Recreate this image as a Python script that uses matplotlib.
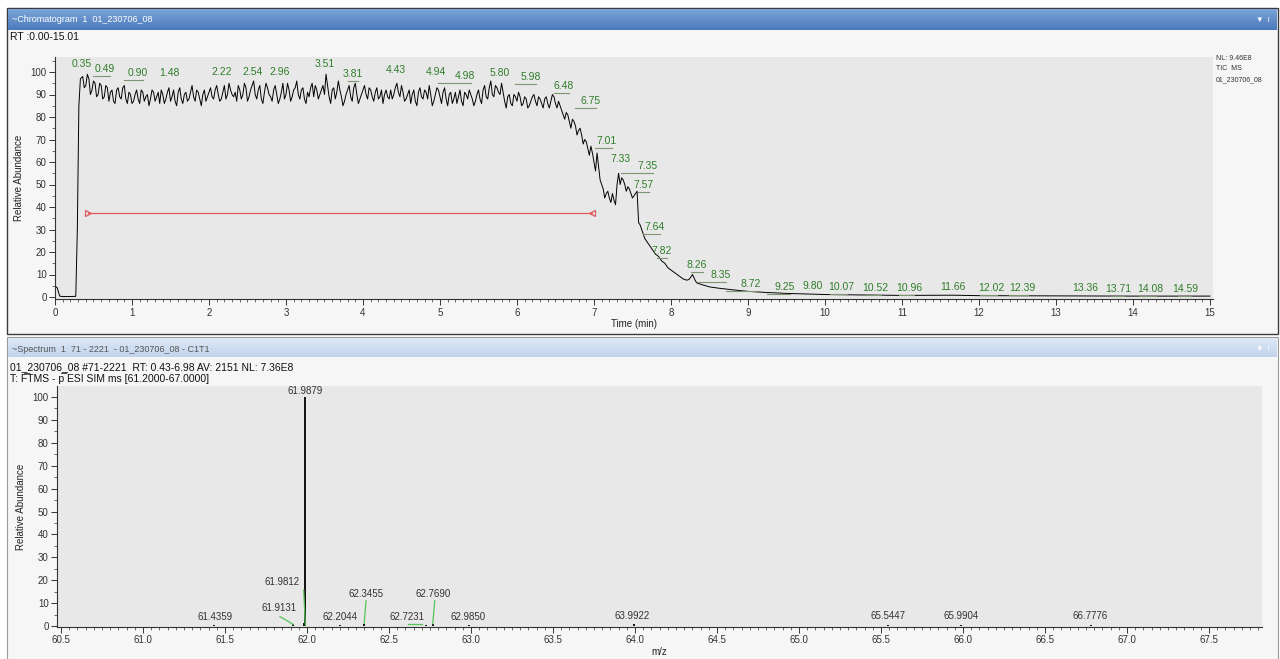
import numpy as np
import matplotlib
matplotlib.use("Agg")
import matplotlib.pyplot as plt
from matplotlib.patches import Rectangle
from matplotlib.colors import LinearSegmentedColormap
from matplotlib.ticker import MultipleLocator, FormatStrFormatter

plt.rcParams['font.family'] = ['Liberation Sans', 'DejaVu Sans']

# ---- chromatogram (TIC), relative abundance vs time (min)
head_t = [0.00, 0.03, 0.06, 0.10, 0.20, 0.27, 0.29, 0.31, 0.33]
head_i = [5.0, 4.0, 0.4, 0.2, 0.2, 0.3, 30, 85, 97]

# read every 0.04 min from 0.36 to 8.32 ...
dense_start = 0.36
dense_step = 0.04
dense_i = [
    98, 94, 97, 92, 95, 90, 94, 89, 93, 91, 87, 92, 89, 93, 88, 91, 86, 90, 88, 92, 87, 90, 88, 91, 89,
    86, 90, 88, 93, 89, 87, 91, 88, 90, 87, 91, 89, 92, 88, 90, 87, 91, 89, 92, 90, 88, 94, 90, 92, 89,
    87, 92, 90, 93, 89, 94, 90, 92, 88, 91, 93, 89, 92, 90, 88, 95, 90, 92, 89, 93, 90, 92, 88, 91, 93,
    89, 92, 90, 94, 99, 89, 92, 88, 96, 89, 87, 92, 89, 93, 90, 88, 92, 90, 93, 89, 91, 88, 92, 90, 89,
    92, 90, 95, 89, 91, 88, 92, 90, 87, 91, 89, 92, 88, 90, 87, 93, 89, 91, 88, 90, 86, 91, 89, 87, 91,
    88, 90, 85, 90, 88, 92, 89, 93, 90, 94, 91, 95, 87, 89, 86, 90, 87, 89, 86, 88, 85, 89, 87, 89, 86,
    88, 86, 87, 89, 84, 85, 81, 82, 78, 79, 76, 74, 72, 70, 66, 67, 60, 64, 52, 48, 46, 44, 46, 41, 55,
    53, 50, 49, 46, 45, 47, 32, 28, 25, 23, 21, 19, 18, 16, 15, 13, 12, 11, 10, 9, 8, 7.5, 8, 10, 7,
]
# ... and the readings in between (0.38 to 8.34)
mid_i = [
    93, 99, 90, 96, 89, 95, 88, 94, 87, 92, 86, 93, 88, 94, 86, 90, 87, 92, 86, 91, 89, 85, 92, 87, 91,
    92, 86, 91, 87, 92, 85, 93, 86, 91, 88, 94, 87, 91, 85, 92, 89, 93, 88, 94, 87, 91, 88, 95, 90, 91,
    94, 88, 95, 87, 92, 96, 88, 94, 86, 95, 90, 87, 94, 86, 91, 88, 95, 87, 92, 96, 88, 93, 86, 89, 95,
    94, 88, 92, 90, 94, 86, 93, 91, 92, 85, 90, 94, 87, 95, 86, 90, 94, 88, 92, 87, 93, 89, 86, 92, 88,
    88, 93, 91, 94, 87, 90, 86, 92, 85, 93, 88, 91, 94, 85, 90, 92, 86, 93, 85, 91, 88, 86, 92, 85, 90,
    92, 88, 87, 92, 86, 94, 88, 96, 89, 93, 90, 91, 84, 90, 85, 89, 91, 85, 89, 84, 87, 90, 85, 88, 84,
    89, 84, 90, 86, 87, 83, 79, 81, 75, 78, 72, 75, 68, 69, 63, 64, 56, 58, 50, 44, 47, 42, 43, 50, 50,
    52, 47, 48, 44, 46, 33, 30, 26, 24, 22, 20, 18.5, 17, 15.5, 14, 12.5, 11.5, 10.5, 9.5, 8.5, 7.8, 7.6, 9, 8.5, 6.2,
]
tail_t = [8.40, 8.50, 8.60, 8.80, 9.00, 9.25, 9.50, 9.80, 10.00, 10.50, 11.00, 11.66, 12.00, 13.00, 14.00, 15.00]
tail_i = [5.5, 4.5, 4.0, 3.2, 2.5, 2.0, 1.6, 1.3, 1.1, 0.9, 0.7, 0.8, 0.6, 0.5, 0.4, 0.4]

body_t, body_i = [], []
for k, (a, b) in enumerate(zip(dense_i, mid_i)):
    t = dense_start + k * dense_step
    body_t += [round(t, 2), round(t + dense_step / 2, 2)]
    body_i += [a, b]
chrom_t = head_t + body_t + tail_t
chrom_i = head_i + body_i + tail_i

# labelled peaks and where the labels sit
peak_rt = [0.35, 0.49, 0.90, 1.48, 2.22, 2.54, 2.96, 3.51, 3.81, 4.43, 4.94, 4.98, 5.80, 5.98,
           6.48, 6.75, 7.01, 7.33, 7.35, 7.57, 7.64, 7.82, 8.26, 8.35, 8.72, 9.25, 9.80, 10.07,
           10.52, 10.96, 11.66, 12.02, 12.39, 13.36, 13.71, 14.08, 14.59]
label_x = [0.35, 0.64, 1.07, 1.48, 2.17, 2.56, 2.92, 3.51, 3.87, 4.43, 4.95, 5.33, 5.78, 6.18,
           6.61, 6.96, 7.17, 7.34, 7.70, 7.64, 7.79, 7.88, 8.34, 8.65, 9.04, 9.48, 9.84, 10.21,
           10.66, 11.09, 11.66, 12.16, 12.57, 13.38, 13.81, 14.23, 14.68]
label_y = [103.6, 101.3, 99.6, 99.6, 100, 100, 100, 103.6, 99.1, 100.9, 100, 98.2, 99.6, 97.8,
           93.8, 87.1, 69.3, 61.3, 58.2, 49.8, 31.1, 20.4, 14.2, 9.8, 5.8, 4.4, 4.9, 4.4,
           4.0, 4.0, 4.4, 4.0, 4.0, 4.0, 3.6, 3.6, 3.6]

avg_range = [0.43, 6.98]
avg_level = 37.3

# ---- spectrum
spec_mz = [61.4359, 61.9131, 61.9812, 61.9879, 62.2044, 62.3455, 62.7231, 62.7690,
           62.9850, 63.9922, 65.5447, 65.9904, 66.7776]
spec_int = [0.6, 0.8, 1.5, 100, 0.5, 0.8, 0.6, 0.8, 0.5, 0.7, 0.3, 0.3, 0.3]
spec_lab_x = [61.44, 61.83, 61.85, 61.9879, 62.20, 62.36, 62.61, 62.77, 62.98, 63.98,
              65.5447, 65.9904, 66.7776]
spec_lab_y = [3.9, 7.9, 19.2, 102.8, 3.9, 14.0, 3.9, 14.0, 3.9, 4.2, 4.2, 4.2, 4.2]
# leader lines (start -> end) for labels moved off their peak
lead_x0 = [61.835, 61.980, 62.360, 62.618, 62.779]
lead_y0 = [4.1, 15.7, 11.0, 0.9, 11.0]
lead_x1 = [61.917, 61.990, 62.349, 62.699, 62.767]
lead_y1 = [0.7, 0.4, 1.2, 0.9, 1.0]

W, H = 1280, 659
fig = plt.figure(figsize=(W / 100, H / 100), dpi=100)
fig.patch.set_facecolor('white')

bg = fig.add_axes([0, 0, 1, 1])
bg.axis('off')


def gradient(ax, x0, x1, y0, y1, c0, c1):
    cm = LinearSegmentedColormap.from_list('g', [c0, c1])
    ax.imshow(np.linspace(0, 1, 32).reshape(-1, 1), cmap=cm, aspect='auto',
              extent=(x0, x1, y1, y0), zorder=2)


# panels
bg.add_patch(Rectangle((7, 8), 1271, 326, facecolor='#f6f6f6', edgecolor='#3a3a3a', lw=1.0, zorder=1))
bg.add_patch(Rectangle((7, 337), 1271, 325, facecolor='#f6f6f6', edgecolor='#9a9a9a', lw=0.8, zorder=1))
gradient(bg, 8, 1277, 9, 30, '#7ba4da', '#4c7aba')
gradient(bg, 8, 1277, 338, 357, '#dde8f6', '#c2d4ed')
bg.set_xlim(0, W)
bg.set_ylim(H, 0)

bg.text(12, 20, '~Chromatogram  1  01_230706_08', color='white', fontsize=6.5, va='center', zorder=3)
bg.text(1256, 20, '\u25bc  \u01c0', color='white', fontsize=5.5, va='center', zorder=3)
bg.text(10, 37.5, 'RT :0.00-15.01', color='#111111', fontsize=7.5, va='center', zorder=3)
bg.text(1216, 58, 'NL: 9.46E8', color='#333333', fontsize=5, va='center', zorder=3)
bg.text(1216, 69, 'TIC  MS', color='#333333', fontsize=5, va='center', zorder=3)
bg.text(1216, 80, '01_230706_08', color='#333333', fontsize=5, va='center', zorder=3)

bg.text(12, 349, '~Spectrum  1  71 - 2221  - 01_230706_08 - C1T1', color='#555555', fontsize=6.5,
        va='center', zorder=3)
bg.text(1256, 349, '\u25bc  \u01c0', color='white', fontsize=5.5, va='center', zorder=3)
bg.text(10, 367.5, '01_230706_08 #71-2221  RT: 0.43-6.98 AV: 2151 NL: 7.36E8', color='#111111',
        fontsize=7.5, va='center', zorder=3)
bg.text(10, 379, 'T: F\u0305TMS - p\u0305 ESI SIM ms [61.2000-67.0000]', color='#111111',
        fontsize=7.5, va='center', zorder=3)


def style_axes(ax):
    ax.set_facecolor('#e8e8e8')
    for s in ['top', 'right']:
        ax.spines[s].set_visible(False)
    for s in ['left', 'bottom']:
        ax.spines[s].set_color('#333333')
        ax.spines[s].set_linewidth(0.8)
    ax.tick_params(which='major', length=4.5, width=0.7, colors='#333333', labelsize=7, pad=1.5)
    ax.tick_params(which='minor', length=2, width=0.5, colors='#333333')
    ax.yaxis.set_major_locator(MultipleLocator(10))
    ax.yaxis.set_minor_locator(MultipleLocator(5))
    ax.set_ylabel('Relative Abundance', fontsize=7, color='#222222', labelpad=5)


# ---- top: chromatogram
ppx = 2.25
ax1 = fig.add_axes([55 / W, 1 - (297 + 1 * ppx) / H, (1213 - 55) / W, 107.5 * ppx / H])
style_axes(ax1)
ax1.plot(chrom_t, chrom_i, color='black', lw=0.7)
ax1.set_xlim(0, 15.04)
ax1.set_ylim(-1, 106.5)
ax1.xaxis.set_major_locator(MultipleLocator(1))
ax1.xaxis.set_minor_locator(MultipleLocator(0.1))
ax1.set_xlabel('Time (min)', fontsize=7, color='#222222', labelpad=1)

for rt, lx, ly in zip(peak_rt, label_x, label_y):
    ax1.text(lx, ly, f'{rt:.2f}', color='#2f7d2a', fontsize=7.5, ha='center', va='center')
    if lx - rt > 0.05:
        ax1.plot([rt, lx + 0.07], [ly - 3.0, ly - 3.0], color='#7d9570', lw=0.8)

ax1.plot(avg_range, [avg_level, avg_level], color='#e05a5a', lw=0.9)
ax1.plot([avg_range[0]], [avg_level], marker='>', ms=5, mfc='none', mec='#e05a5a', mew=0.9)
ax1.plot([avg_range[1]], [avg_level], marker='<', ms=5, mfc='none', mec='#e05a5a', mew=0.9)

# ---- bottom: spectrum
spx = 2.29
ax2 = fig.add_axes([57 / W, 1 - (626 + 0.5 * spx) / H, (1262 - 57) / W, 105.3 * spx / H])
style_axes(ax2)
ax2.vlines(spec_mz, 0, spec_int, color='black', lw=1.3)
ax2.set_xlim(60.476, 67.823)
ax2.set_ylim(-0.5, 104.8)
ax2.xaxis.set_major_locator(MultipleLocator(0.5))
ax2.xaxis.set_minor_locator(MultipleLocator(0.05))
ax2.xaxis.set_major_formatter(FormatStrFormatter('%.1f'))
ax2.set_xlabel('m/z', fontsize=7, color='#222222', labelpad=1)

for mz, lx, ly in zip(spec_mz, spec_lab_x, spec_lab_y):
    ax2.text(lx, ly, f'{mz:.4f}', color='#333333', fontsize=7, ha='center', va='center')
for x0, y0, x1, y1 in zip(lead_x0, lead_y0, lead_x1, lead_y1):
    ax2.plot([x0, x1], [y0, y1], color='#55c455', lw=0.9)

fig.savefig('out.png', dpi=100)
